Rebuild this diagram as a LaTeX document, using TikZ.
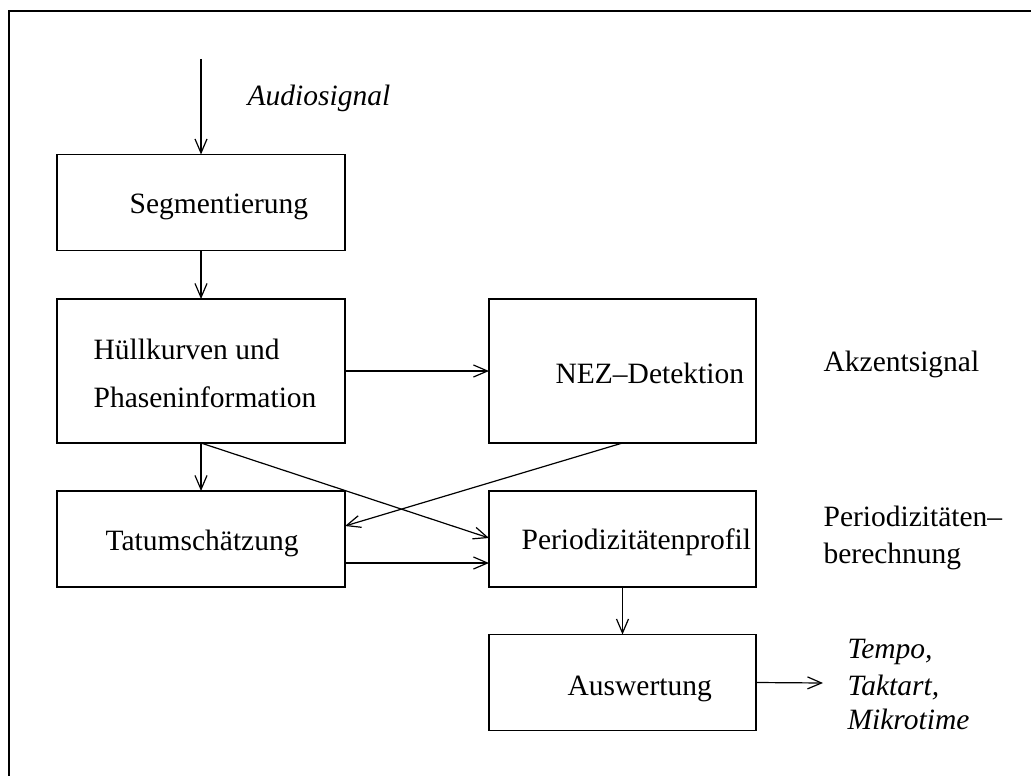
\documentclass[tikz,border=0pt]{standalone}
\usepackage{fontspec}
\setmainfont{Liberation Serif}
\usetikzlibrary{arrows.meta}
\begin{document}
\begin{tikzpicture}[x=1pt,y=-1pt,
  line width=1.2pt,
  box/.style={draw, minimum width=#1, minimum height=96pt, inner sep=0pt, outer sep=0pt},
  tall/.style={minimum height=144pt},
  lbl/.style={anchor=base west, inner sep=0pt, font=\fontsize{29.5}{34}\selectfont},
  arr/.style={-{Straight Barb[length=14pt,width=12pt,line width=1.2pt]}},
  font=\fontsize{29.5}{34}\selectfont]
\useasboundingbox (0,0) rectangle (1031,776);
% frame (top and left only visible)
\draw (1031,11) -- (9,11) -- (9,776);
% boxes
\node[box=288pt] (seg) at (201,202.5) {};
\node[box=288pt, tall] (hull) at (201,371) {};
\node[box=267pt, tall] (nez) at (622.5,371) {};
\node[box=288pt] (tat) at (201,539) {};
\node[box=267pt] (per) at (622.5,539) {};
\node[box=267pt] (aus) at (622.5,682.5) {};
% box texts
\node[lbl] (tseg) at (129,213) {Segmentierung};
\node[lbl] (thull1) at (93,359) {Hüllkurven und};
\node[lbl] (thull2) at (93,407) {Phaseninformation};
\node[lbl] (tnez) at (555,383) {NEZ–Detektion};
\node[lbl] (ttat) at (105,550) {Tatumschätzung};
\node[lbl] (tper) at (521,549) {Periodizitätenprofil};
\node[lbl] (taus) at (567,695) {Auswertung};
% side labels
\node[lbl] (audio) at (247,106) {\itshape Audiosignal};
\node[lbl] (akz) at (823,371) {Akzentsignal};
\node[lbl] (pb1) at (823,526) {Periodizitäten–};
\node[lbl] (pb2) at (823,563) {berechnung};
\node[lbl] (o1) at (847,658) {\itshape Tempo,};
\node[lbl] (o2) at (847,695) {\itshape Taktart,};
\node[lbl] (o3) at (847,729) {\itshape Mikrotime};
% connectors
\coordinate (in) at (201,59);
\coordinate (out) at (823,683);
\draw[arr] (in) -- (seg.north);
\draw[arr] (seg.south) -- (hull.north);
\draw[arr] (hull.east) -- (nez.west);
\draw[arr] (hull.south) -- ([yshift=1pt]per.west);
\draw[arr] (hull.south) -- (tat.north);
\draw[arr] (nez.south) -- ([yshift=13pt]tat.east);
\draw[arr] ([yshift=-24pt]tat.east) -- ([yshift=-24pt]per.west);
\draw[arr] (per.south) -- (aus.north);
\draw[arr] (aus.east) -- (out);
\end{tikzpicture}
\end{document}
